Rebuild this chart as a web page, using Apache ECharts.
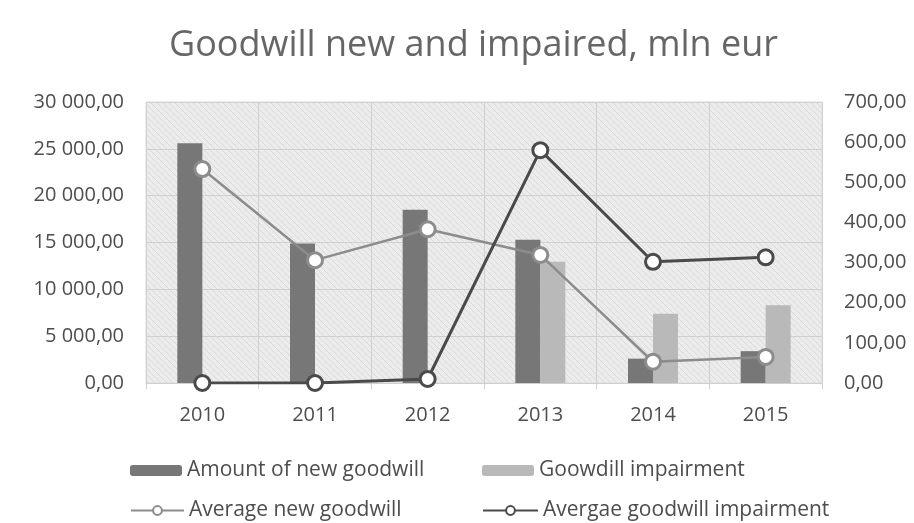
<!DOCTYPE html>
<html><head><meta charset="utf-8">
<script src="https://cdn.jsdelivr.net/npm/echarts@6/dist/echarts.min.js"></script>
<style>html,body{margin:0;padding:0;background:#fff}#c{width:914px;height:523px}</style>
</head><body><div id="c"></div>
<script>
const categories = ['2010','2011','2012','2013','2014','2015'];
const newGoodwill = [25600, 14900, 18500, 15300, 2600, 3400];
const impairment = [0, 0, 0, 12950, 7400, 8300];
const avgNewGoodwill = [533, 306, 383, 319, 53, 65];
const avgImpairment = [0, 0, 10, 580, 302, 313];
const leftTicks = [0, 5000, 10000, 15000, 20000, 25000, 30000];
const rightTicks = [0, 100, 200, 300, 400, 500, 600, 700];

function fmt(v){
  const s = Math.round(v).toString().replace(/\B(?=(\d{3})+(?!\d))/g, ' ');
  return s + ',00';
}
const pc = document.createElement('canvas');
pc.width = 6; pc.height = 6;
const g = pc.getContext('2d');
g.fillStyle = '#ececec'; g.fillRect(0,0,6,6);
g.strokeStyle = '#d9d9d9'; g.lineWidth = 1;
g.beginPath(); g.moveTo(0,0); g.lineTo(6,6); g.moveTo(-3,3); g.lineTo(3,9); g.moveTo(3,-3); g.lineTo(9,3); g.stroke();

const FONT = 'Open Sans';
const chart = echarts.init(document.getElementById('c'));
const legendText = {color:'#4d4d4d', fontSize:21, fontFamily:FONT};
chart.setOption({
  animation:false,
  backgroundColor:'#fff',
  title:{text:'Goodwill new and impaired, mln eur', left:164, top:23,
    textStyle:{color:'#666', fontSize:36, fontWeight:'normal', fontFamily:FONT}},
  grid:{left:146, right:92, top:102, bottom:140, show:true,
    backgroundColor:{image:pc, repeat:'repeat'}, borderColor:'#dcdcdc', borderWidth:1},
  legend:[
    {data:['Amount of new goodwill'], left:125, top:455, itemWidth:52, itemHeight:11, textStyle:legendText},
    {data:['Goowdill impairment'], left:477, top:455, itemWidth:52, itemHeight:11, textStyle:legendText},
    {data:['Average new goodwill'], left:125, top:495, itemWidth:53, itemHeight:11, textStyle:legendText},
    {data:['Avergae goodwill impairment'], left:477, top:495, itemWidth:55, itemHeight:11, textStyle:legendText}
  ],
  xAxis:{type:'category', data:categories, boundaryGap:true,
    axisLine:{lineStyle:{color:'#d0d0d0'}},
    axisTick:{show:true, length:6, lineStyle:{color:'#d0d0d0'}},
    splitLine:{show:true, lineStyle:{color:'#d0d0d0'}},
    axisLabel:{color:'#4d4d4d', fontSize:20, fontFamily:FONT, margin:22}},
  yAxis:[
    {type:'value', min:0, max:30000, interval:5000, position:'left',
     axisLine:{show:false}, axisTick:{show:false},
     splitLine:{show:true, lineStyle:{color:'#d0d0d0'}},
     axisLabel:{color:'#4d4d4d', fontSize:20, fontFamily:FONT, margin:22, formatter:fmt}},
    {type:'value', min:0, max:700, interval:100, position:'right',
     axisLine:{show:false}, axisTick:{show:false}, splitLine:{show:false},
     axisLabel:{color:'#4d4d4d', fontSize:20, fontFamily:FONT, margin:22, formatter:fmt}}
  ],
  series:[
    {name:'Amount of new goodwill', type:'bar', data:newGoodwill, barWidth:25, barGap:'0%',
     itemStyle:{color:'#777777'}},
    {name:'Goowdill impairment', type:'bar', data:impairment, barWidth:25,
     itemStyle:{color:'#b9b9b9'}},
    {name:'Average new goodwill', type:'line', yAxisIndex:1, data:avgNewGoodwill,
     symbol:'circle', symbolSize:15, lineStyle:{color:'#8c8c8c', width:2.5},
     itemStyle:{color:'#fff', borderColor:'#8c8c8c', borderWidth:3}, z:5},
    {name:'Avergae goodwill impairment', type:'line', yAxisIndex:1, data:avgImpairment,
     symbol:'circle', symbolSize:15, lineStyle:{color:'#4a4a4a', width:3},
     itemStyle:{color:'#fff', borderColor:'#4a4a4a', borderWidth:3}, z:6}
  ]
});
</script></body></html>
